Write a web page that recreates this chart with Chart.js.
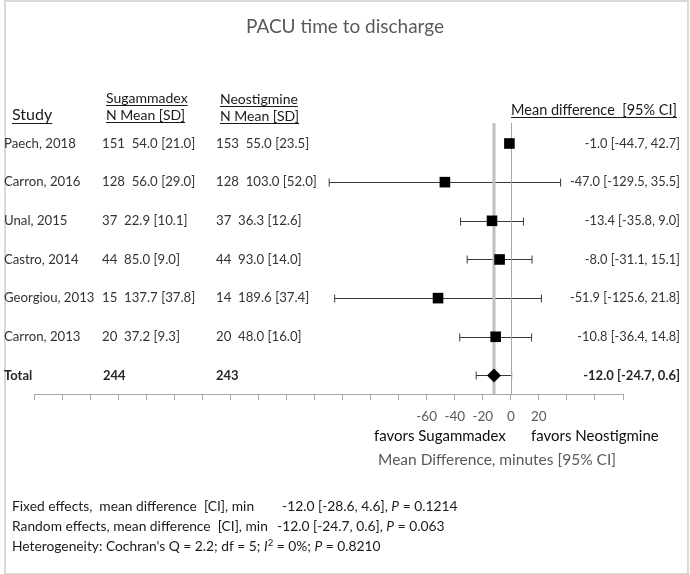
<!DOCTYPE html>
<html>
<head>
<meta charset="utf-8">
<title>PACU time to discharge</title>
<script src="https://cdn.jsdelivr.net/npm/chart.js@4.4.1/dist/chart.umd.min.js"></script>
<style>
  html, body { margin: 0; padding: 0; background: #fff; }
  #wrap { width: 690px; height: 574px; }
</style>
</head>
<body>
<div id="wrap"><canvas id="forest" width="690" height="574"></canvas></div>
<script>
// study level data, top row first
const studies = ["Paech, 2018", "Carron, 2016", "Unal, 2015", "Castro, 2014", "Georgiou, 2013", "Carron, 2013"];
const sugN = [151, 128, 37, 44, 15, 20];
const sugMean = [54.0, 56.0, 22.9, 85.0, 137.7, 37.2];
const sugSD = [21.0, 29.0, 10.1, 9.0, 37.8, 9.3];
const neoN = [153, 128, 37, 44, 14, 20];
const neoMean = [55.0, 103.0, 36.3, 93.0, 189.6, 48.0];
const neoSD = [23.5, 52.0, 12.6, 14.0, 37.4, 16.0];
const meanDiff = [-1.0, -47.0, -13.4, -8.0, -51.9, -10.8];
const ciLow = [-44.7, -129.5, -35.8, -31.1, -125.6, -36.4];
const ciHigh = [42.7, 35.5, 9.0, 15.1, 21.8, 14.8];
// the original picture shows no whisker for Paech
const showWhisker = [false, true, true, true, true, true];

// pooled (random effects) row
const totalN = [244, 243];
const totalDiff = [-12.0, -24.7, 0.6];
const fixedEffect = [-12.0, -28.6, 4.6];
const fixedP = "0.1214";
const randomEffect = [-12.0, -24.7, 0.6];
const randomP = "0.063";
const cochranQ = 2.2, hetDf = 5, iSquared = 0, hetP = "0.8210";

// axis
const xMin = -340, xMax = 80, xStep = 20;
const xTickLabels = [-60, -40, -20, 0, 20];

const FONT = "Lato, 'Open Sans', sans-serif";
const f1 = (v) => v.toFixed(1);

function put(ctx, s, x, y, size, color, opts) {
  opts = opts || {};
  ctx.save();
  ctx.font = (opts.italic ? "italic " : "") + (opts.bold ? "bold " : "") + size + "px " + FONT;
  ctx.fillStyle = color;
  ctx.textAlign = opts.align || "left";
  ctx.textBaseline = "middle";
  ctx.fillText(s, x, y);
  const w = ctx.measureText(s).width;
  if (opts.underline) {
    let x0 = x;
    if (ctx.textAlign === "right") x0 = x - w;
    if (ctx.textAlign === "center") x0 = x - w / 2;
    ctx.strokeStyle = color;
    ctx.lineWidth = 1;
    ctx.beginPath();
    ctx.moveTo(x0, Math.round(y + size * 0.5) + 0.5);
    ctx.lineTo(x0 + w, Math.round(y + size * 0.5) + 0.5);
    ctx.stroke();
  }
  ctx.restore();
  return w;
}

// draws pieces one after another, some italic
function putRun(ctx, parts, x, y, size, color) {
  let cx = x;
  parts.forEach(p => {
    const sz = p.sup ? size * 0.7 : size;
    const dy = p.sup ? -size * 0.3 : 0;
    cx += put(ctx, p.t, cx, y + dy, sz, color, { italic: p.i });
  });
}

const forestPlugin = {
  id: "forest",
  beforeDatasetsDraw(chart) {
    const ctx = chart.ctx, xs = chart.scales.x, ys = chart.scales.y, area = chart.chartArea;
    ctx.save();
    ctx.strokeStyle = "#3a3a3a";
    ctx.lineWidth = 1;
    const whisker = (lo, hi, row) => {
      const y = Math.round(ys.getPixelForValue(row)) + 0.5;
      const a = xs.getPixelForValue(lo), b = xs.getPixelForValue(hi);
      ctx.beginPath();
      ctx.moveTo(a, y); ctx.lineTo(b, y);
      ctx.moveTo(a, y - 4); ctx.lineTo(a, y + 4);
      ctx.moveTo(b, y - 4); ctx.lineTo(b, y + 4);
      ctx.stroke();
    };
    studies.forEach((s, i) => { if (showWhisker[i]) whisker(ciLow[i], ciHigh[i], i); });
    whisker(totalDiff[1], totalDiff[2], studies.length);

    // pooled estimate and line of no effect
    ctx.strokeStyle = "#bfbfbf";
    ctx.lineWidth = 3;
    let px = xs.getPixelForValue(totalDiff[0]);
    ctx.beginPath(); ctx.moveTo(px, area.top); ctx.lineTo(px, area.bottom); ctx.stroke();
    ctx.strokeStyle = "#a6a6a6";
    ctx.lineWidth = 1;
    px = Math.round(xs.getPixelForValue(0)) + 0.5;
    ctx.beginPath(); ctx.moveTo(px, area.top); ctx.lineTo(px, area.bottom); ctx.stroke();
    ctx.restore();
  },
  afterDraw(chart) {
    const ctx = chart.ctx, ys = chart.scales.y;
    // frame
    ctx.save();
    ctx.strokeStyle = "#d9d9d9";
    ctx.lineWidth = 2;
    ctx.strokeRect(5, 1, 683, 573);
    ctx.restore();

    put(ctx, "PACU time to discharge", 345, 27, 19, "#595959", { align: "center" });

    const hc = "#1a1a1a";
    put(ctx, "Study", 12, 115, 16, hc, { underline: true });
    put(ctx, "Sugammadex", 106, 98, 14, hc, { underline: true });
    put(ctx, "N Mean [SD]", 106, 115, 14, hc, { underline: true });
    put(ctx, "Neostigmine", 220, 99, 14, hc, { underline: true });
    put(ctx, "N Mean [SD]", 220, 116, 14, hc, { underline: true });
    put(ctx, "Mean difference  [95% CI]", 677, 110, 14.5, hc, { align: "right", underline: true });

    const row = "#333333";
    studies.forEach((s, i) => {
      const y = ys.getPixelForValue(i);
      put(ctx, s, 4, y, 13.2, row);
      put(ctx, sugN[i] + "  " + f1(sugMean[i]) + " [" + f1(sugSD[i]) + "]", 102, y, 13.2, row);
      put(ctx, neoN[i] + "  " + f1(neoMean[i]) + " [" + f1(neoSD[i]) + "]", 216, y, 13.2, row);
      put(ctx, f1(meanDiff[i]) + " [" + f1(ciLow[i]) + ", " + f1(ciHigh[i]) + "]", 680, y, 12.8, row, { align: "right" });
    });
    const ty = ys.getPixelForValue(studies.length);
    put(ctx, "Total", 4, ty, 13, "#262626", { bold: true });
    put(ctx, String(totalN[0]), 103, ty, 13, "#262626", { bold: true });
    put(ctx, String(totalN[1]), 216, ty, 13, "#262626", { bold: true });
    put(ctx, f1(totalDiff[0]) + " [" + f1(totalDiff[1]) + ", " + f1(totalDiff[2]) + "]", 680, ty, 13, "#262626", { align: "right", bold: true });

    put(ctx, "favors Sugammadex", 374, 436, 15, "#0d0d0d");
    put(ctx, "favors Neostigmine", 531, 436, 15, "#0d0d0d");
    put(ctx, "Mean Difference, minutes [95% CI]", 378, 460, 15.5, "#595959");

    const fc = "#1a1a1a";
    put(ctx, "Fixed effects,  mean difference  [CI], min", 12, 507, 13.8, fc);
    putRun(ctx, [{ t: f1(fixedEffect[0]) + " [" + f1(fixedEffect[1]) + ", " + f1(fixedEffect[2]) + "], " }, { t: "P", i: true }, { t: " = " + fixedP }], 282, 507, 13.8, fc);
    put(ctx, "Random effects, mean difference  [CI], min", 12, 527, 13.8, fc);
    putRun(ctx, [{ t: f1(randomEffect[0]) + " [" + f1(randomEffect[1]) + ", " + f1(randomEffect[2]) + "], " }, { t: "P", i: true }, { t: " = " + randomP }], 277, 527, 13.8, fc);
    putRun(ctx, [
      { t: "Heterogeneity: Cochran's Q = " + cochranQ + "; df = " + hetDf + "; " },
      { t: "I", i: true }, { t: "2", sup: true }, { t: " = " + iSquared + "%; " },
      { t: "P", i: true }, { t: " = " + hetP }
    ], 12, 547, 13.8, fc);
  }
};

const ctx = document.getElementById("forest").getContext("2d");
new Chart(ctx, {
  type: "scatter",
  data: {
    datasets: [
      {
        label: "Studies",
        data: studies.map((s, i) => ({ x: meanDiff[i], y: i })),
        pointStyle: "rect",
        pointRadius: 7.5,
        backgroundColor: "#000",
        borderColor: "#000",
        borderWidth: 0
      },
      {
        label: "Total",
        data: [{ x: totalDiff[0], y: studies.length }],
        pointStyle: "rectRot",
        pointRadius: 7,
        backgroundColor: "#000",
        borderColor: "#000",
        borderWidth: 0
      }
    ]
  },
  options: {
    responsive: false,
    animation: false,
    devicePixelRatio: 1,
    layout: { padding: { left: 34, right: 67, top: 123, bottom: 140 } },
    scales: {
      x: {
        type: "linear",
        min: xMin,
        max: xMax,
        afterBuildTicks: (scale) => {
          const t = [];
          for (let v = xMin; v <= xMax; v += xStep) t.push({ value: v });
          scale.ticks = t;
        },
        afterFit: (scale) => { scale.height = 40; },
        grid: { display: true, drawOnChartArea: false, drawTicks: true, tickLength: 6, color: "#a6a6a6" },
        border: { display: true, color: "#a6a6a6" },
        ticks: {
          autoSkip: false,
          maxRotation: 0,
          padding: 9,
          color: "#595959",
          font: { family: FONT, size: 13.5 },
          callback: (v) => xTickLabels.includes(v) ? String(v) : ""
        }
      },
      y: {
        type: "linear",
        display: false,
        reverse: true,
        min: -0.53,
        max: 6.48
      }
    },
    plugins: {
      legend: { display: false },
      tooltip: { enabled: false },
      title: { display: false }
    }
  },
  plugins: [forestPlugin]
});
</script>
</body>
</html>
